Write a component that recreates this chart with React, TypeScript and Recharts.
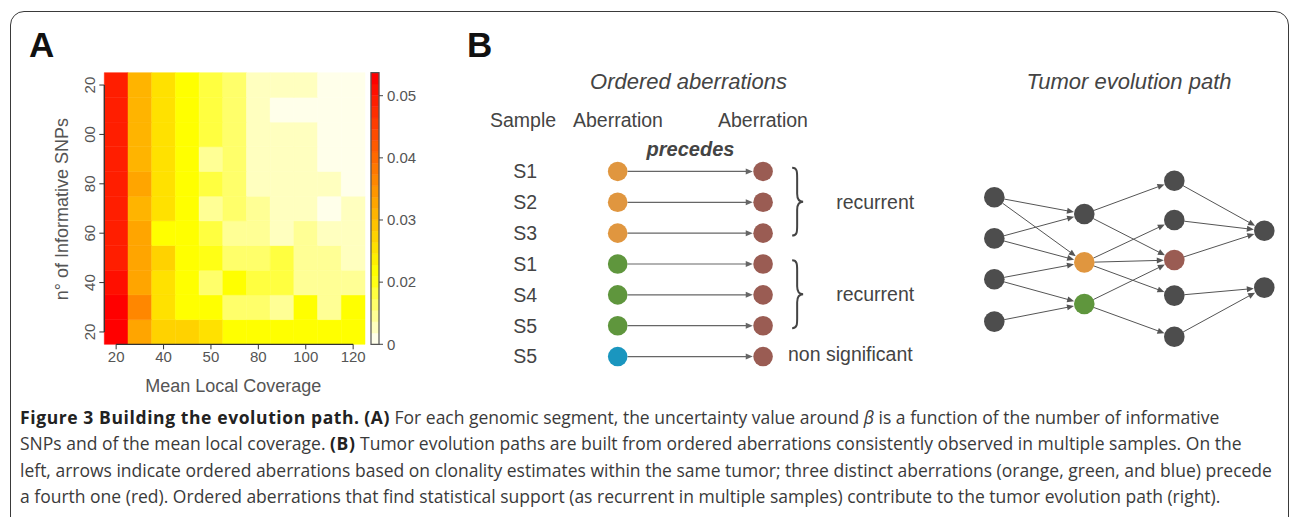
import React from 'react'
import { ReferenceArea, ReferenceLine, Scatter, ScatterChart, XAxis, YAxis } from 'recharts'

const FONT = '"Liberation Sans", Arial, Helvetica, sans-serif'
const INK = '#444'

/* ---------- panel A: uncertainty of beta ---------- */

// one row per number of informative SNPs, bottom row (20) first; 11 coverage bins per row
const SNP_COUNTS = [20, 30, 40, 50, 60, 70, 80, 90, 100, 110, 120]
const UNCERTAINTY = [
  [0.052, 0.032, 0.027, 0.027, 0.0255, 0.0218, 0.0218, 0.0218, 0.0218, 0.021, 0.021],
  [0.053, 0.0355, 0.026, 0.0218, 0.021, 0.0164, 0.0164, 0.0146, 0.021, 0.0146, 0.021],
  [0.051, 0.0328, 0.0255, 0.0218, 0.0164, 0.021, 0.018, 0.018, 0.0146, 0.0146, 0.0146],
  [0.049, 0.0328, 0.027, 0.0218, 0.02, 0.0164, 0.0164, 0.018, 0.0146, 0.0146, 0.0128],
  [0.049, 0.032, 0.0218, 0.021, 0.018, 0.0146, 0.0146, 0.0128, 0.0146, 0.013, 0.0128],
  [0.049, 0.031, 0.0255, 0.021, 0.0146, 0.0164, 0.0146, 0.0128, 0.0128, 0.011, 0.0128],
  [0.049, 0.0328, 0.0255, 0.021, 0.0175, 0.0164, 0.0128, 0.0128, 0.0128, 0.0128, 0.011],
  [0.049, 0.031, 0.0255, 0.021, 0.0146, 0.0164, 0.0128, 0.0128, 0.0128, 0.011, 0.011],
  [0.049, 0.031, 0.0255, 0.021, 0.018, 0.0164, 0.0128, 0.0128, 0.0128, 0.011, 0.011],
  [0.049, 0.031, 0.0255, 0.021, 0.018, 0.0164, 0.0128, 0.011, 0.011, 0.011, 0.011],
  [0.049, 0.031, 0.0255, 0.021, 0.018, 0.0164, 0.0128, 0.0128, 0.0128, 0.011, 0.011],
]
// tick labels as printed (the leading "1" of 100 / 120 is cut off in the figure)
const SNP_TICK_LABELS = ['20', '40', '60', '80', '00', '20']
const COVERAGE_TICK_LABELS = ['20', '40', '50', '80', '100', '120']

const LEGEND_MIN = 0.01
const LEGEND_MAX = 0.0537
const LEGEND_TICKS = [0.01, 0.02, 0.03, 0.04, 0.05]
const LEGEND_TICK_LABELS = ['0', '0.02', '0.03', '0.04', '0.05']
const LEGEND_STEPS = 24

// R's heat.colors, lightest first
function heatColor(band: number, n: number) {
  const j = Math.floor(n / 4)
  const i = n - j
  const hex = (v: number) => Math.round(v).toString(16).padStart(2, '0')
  if (band < j) {
    const s = (2 * band + 1) / (2 * j)
    return '#ffff' + hex(255 * (1 - s))
  }
  const h = (1 - (band - j) / (i - 1)) / 6
  return '#ff' + hex(255 * h * 6) + '00'
}

const bandOf = (v: number) =>
  Math.max(0, Math.min(LEGEND_STEPS - 1, Math.floor(((v - LEGEND_MIN) / (LEGEND_MAX - LEGEND_MIN)) * LEGEND_STEPS)))

const cells = UNCERTAINTY.flatMap((row, r) =>
  row.map((v, c) => ({ x: c + 0.5, y: r + 0.5, v, snps: SNP_COUNTS[r], color: heatColor(bandOf(v), LEGEND_STEPS) })),
)
const colTicks = COVERAGE_TICK_LABELS.map((_, k) => 2 * k + 0.5)
const rowTicks = SNP_TICK_LABELS.map((_, k) => 2 * k + 0.5)
const legendBands = Array.from({ length: LEGEND_STEPS }, (_, b) => ({
  x: 0.5,
  lo: LEGEND_MIN + ((LEGEND_MAX - LEGEND_MIN) * b) / LEGEND_STEPS,
  hi: LEGEND_MIN + ((LEGEND_MAX - LEGEND_MIN) * (b + 1)) / LEGEND_STEPS,
  color: heatColor(b, LEGEND_STEPS),
}))

const tickText = { fill: '#555', fontSize: 15, fontFamily: FONT }

function SnpTick({ x, y, payload }: any) {
  const label = SNP_TICK_LABELS[Math.round((payload.value - 0.5) / 2)]
  return (
    <text x={x} y={y} transform={`rotate(-90 ${x} ${y})`} textAnchor="middle" {...tickText}>
      {label}
    </text>
  )
}

function Heatmap() {
  return (
    <ScatterChart width={400} height={400} margin={{ top: 72.7, right: 35, bottom: 25.7, left: 0 }}>
      <XAxis type="number" dataKey="x" domain={[0, 11]} ticks={colTicks} interval={0} height={30}
             axisLine={false} tickSize={5} tickLine={{ stroke: '#333' }} tick={tickText}
             tickFormatter={(v: number) => COVERAGE_TICK_LABELS[Math.round((v - 0.5) / 2)]} />
      <YAxis type="number" dataKey="y" domain={[0, 11]} ticks={rowTicks} interval={0} width={104.3}
             axisLine={false} tickSize={5} tickMargin={4} tickLine={{ stroke: '#333' }} tick={<SnpTick />} />
      <Scatter data={cells} fill="transparent" isAnimationActive={false} />
      {cells.map((c) => (
        <ReferenceArea key={`${c.x}-${c.y}`} x1={c.x - 0.5} x2={c.x + 0.5} y1={c.y - 0.5} y2={c.y + 0.5}
                       fill={c.color} fillOpacity={1} stroke={c.color} strokeWidth={0.5} />
      ))}
      <ReferenceLine segment={[{ x: 0, y: 0.5 }, { x: 0, y: 10.5 }]} stroke="#333" strokeWidth={1.3} ifOverflow="visible" />
      <ReferenceLine segment={[{ x: 0.5, y: 0 }, { x: 10.5, y: 0 }]} stroke="#333" strokeWidth={1.3} ifOverflow="visible" />
    </ScatterChart>
  )
}

function Legend() {
  return (
    <ScatterChart width={80} height={300} margin={{ top: 12.7, right: 11, bottom: 15.7, left: 11 }}>
      <XAxis type="number" dataKey="x" domain={[0, 1]} hide />
      <YAxis type="number" dataKey="lo" orientation="right" domain={[LEGEND_MIN, LEGEND_MAX]} ticks={LEGEND_TICKS}
             interval={0} width={50} axisLine={false} tickSize={4} tickMargin={4} tickLine={{ stroke: '#444' }}
             tick={tickText} tickFormatter={(v: number) => LEGEND_TICK_LABELS[LEGEND_TICKS.indexOf(v)] ?? ''} />
      <Scatter data={legendBands} fill="transparent" isAnimationActive={false} />
      {legendBands.map((b) => (
        <ReferenceArea key={b.lo} x1={0} x2={1} y1={b.lo} y2={b.hi} fill={b.color} fillOpacity={1}
                       stroke={b.color} strokeWidth={0.5} />
      ))}
      <ReferenceArea x1={0} x2={1} y1={LEGEND_MIN} y2={LEGEND_MAX} fill="none" stroke="#555" strokeWidth={1.2}
                     ifOverflow="visible" />
    </ScatterChart>
  )
}

/* ---------- panel B ---------- */

const KIND_COLOR: Record<string, string> = {
  orange: '#E0963F',
  green: '#5F963D',
  blue: '#1A96BF',
  red: '#9A5C53',
  other: '#4D4D4D',
}

// ordered aberrations: sample, aberration that comes first (the second one is always the red one)
const SAMPLES = ['S1', 'S2', 'S3', 'S1', 'S4', 'S5', 'S5']
const FIRST_ABERRATION = ['orange', 'orange', 'orange', 'green', 'green', 'green', 'blue']
const RECURRENT_GROUPS = [
  { from: 0, to: 2, label: 'recurrent' },
  { from: 3, to: 5, label: 'recurrent' },
]

const firstPoints = FIRST_ABERRATION.map((k, i) => ({ x: 0, y: i, color: KIND_COLOR[k] }))
const secondPoints = SAMPLES.map((_, i) => ({ x: 1, y: i, color: KIND_COLOR.red }))

// tumor evolution path: layer (column) and vertical position of each aberration
const NODES = [
  { id: 'a1', layer: 0, pos: -1.57, kind: 'other' },
  { id: 'a2', layer: 0, pos: -0.54, kind: 'other' },
  { id: 'a3', layer: 0, pos: 0.48, kind: 'other' },
  { id: 'a4', layer: 0, pos: 1.54, kind: 'other' },
  { id: 'b1', layer: 1, pos: -1.15, kind: 'other' },
  { id: 'b2', layer: 1, pos: 0.06, kind: 'orange' },
  { id: 'b3', layer: 1, pos: 1.1, kind: 'green' },
  { id: 'c1', layer: 2, pos: -1.98, kind: 'other' },
  { id: 'c2', layer: 2, pos: -1.0, kind: 'other' },
  { id: 'c3', layer: 2, pos: 0, kind: 'red' },
  { id: 'c4', layer: 2, pos: 0.89, kind: 'other' },
  { id: 'c5', layer: 2, pos: 1.92, kind: 'other' },
  { id: 'd1', layer: 3, pos: -0.73, kind: 'other' },
  { id: 'd2', layer: 3, pos: 0.69, kind: 'other' },
]
const EDGES = [
  ['a1', 'b1'], ['a1', 'b2'], ['a2', 'b1'], ['a2', 'b2'], ['a3', 'b2'], ['a3', 'b3'], ['a4', 'b3'],
  ['b1', 'c1'], ['b1', 'c3'], ['b2', 'c2'], ['b2', 'c3'], ['b2', 'c4'], ['b3', 'c3'], ['b3', 'c5'],
  ['c1', 'd1'], ['c2', 'd1'], ['c3', 'd1'], ['c4', 'd2'], ['c5', 'd2'],
]
const nodePoints = NODES.map((n) => ({ x: n.layer, y: n.pos, color: KIND_COLOR[n.kind] }))
const nodeById = Object.fromEntries(NODES.map((n) => [n.id, n]))

const dot = (r: number) => (props: any) => {
  const { cx, cy, payload } = props
  if (cx == null || cy == null) return <g />
  return <circle cx={cx} cy={cy} r={r} fill={payload.color} />
}

function arrow(gap: number, color: string, width: number) {
  return (p: any) => {
    const { x1, y1, x2, y2 } = p
    const dx = x2 - x1
    const dy = y2 - y1
    const len = Math.hypot(dx, dy) || 1
    const ux = dx / len
    const uy = dy / len
    const tx = x2 - ux * (gap + 0.5)
    const ty = y2 - uy * (gap + 0.5)
    const bx = tx - ux * 7
    const by = ty - uy * 7
    return (
      <g>
        <line x1={x1 + ux * gap} y1={y1 + uy * gap} x2={bx + ux} y2={by + uy} stroke={color} strokeWidth={width} />
        <polygon points={`${tx},${ty} ${bx - uy * 3},${by + ux * 3} ${bx + uy * 3},${by - ux * 3}`} fill={color} />
      </g>
    )
  }
}

function brace(p: any) {
  const { x1, y1, y2 } = p
  const top = Math.min(y1, y2)
  const bot = Math.max(y1, y2)
  const mid = (top + bot) / 2
  const m = x1 + 5
  const tip = x1 + 11
  const d = `M${x1},${top} C${m},${top} ${m},${top + 4} ${m},${top + 10} L${m},${mid - 8} ` +
    `C${m},${mid - 3} ${m + 2},${mid} ${tip},${mid} C${m + 2},${mid} ${m},${mid + 3} ${m},${mid + 8} ` +
    `L${m},${bot - 10} C${m},${bot - 4} ${m},${bot} ${x1},${bot}`
  return <path d={d} fill="none" stroke={INK} strokeWidth={2} />
}

function OrderedAberrations() {
  return (
    <ScatterChart width={463} height={230} margin={{ top: 6, right: 0, bottom: 8, left: 0 }}>
      <XAxis type="number" dataKey="x" domain={[-0.5, 2.1]} hide />
      <YAxis type="number" dataKey="y" domain={[-0.5, 6.5]} reversed ticks={SAMPLES.map((_, i) => i)} interval={0}
             width={85} axisLine={false} tickLine={false} tickSize={0} tickMargin={8}
             tick={{ fill: INK, fontSize: 19.5, fontFamily: FONT }} tickFormatter={(i: number) => SAMPLES[i]} />
      {SAMPLES.map((_, i) => (
        <ReferenceLine key={i} segment={[{ x: 0, y: i }, { x: 1, y: i }]} ifOverflow="visible"
                       shape={arrow(9.8, '#666', 1.2)} />
      ))}
      {RECURRENT_GROUPS.map((g) => (
        <ReferenceLine key={g.from} segment={[{ x: 1.2, y: g.from - 0.12 }, { x: 1.2, y: g.to + 0.08 }]}
                       ifOverflow="visible" shape={brace}
                       label={{ value: g.label, position: 'right', offset: 44, fill: INK, fontSize: 19.5, fontFamily: FONT }} />
      ))}
      <Scatter data={firstPoints} shape={dot(9.8)} isAnimationActive={false} />
      <Scatter data={secondPoints} shape={dot(9.8)} isAnimationActive={false} />
    </ScatterChart>
  )
}

function EvolutionPath() {
  return (
    <ScatterChart width={350} height={220} margin={{ top: 10, right: 3.2, bottom: 10, left: 9.3 }}>
      <XAxis type="number" dataKey="x" domain={[-0.5, 3.25]} hide />
      <YAxis type="number" dataKey="y" domain={[-2.5, 2.5]} reversed hide />
      {EDGES.map(([a, b]) => (
        <ReferenceLine key={a + b} ifOverflow="visible" shape={arrow(10, '#555', 1)}
                       segment={[{ x: nodeById[a].layer, y: nodeById[a].pos }, { x: nodeById[b].layer, y: nodeById[b].pos }]} />
      ))}
      <Scatter data={nodePoints} shape={dot(10.3)} isAnimationActive={false} />
    </ScatterChart>
  )
}

const captionBold = { fontWeight: 700, color: '#222', letterSpacing: '0.6px' }

export default function App() {
  return (
    <div style={{ position: 'absolute', left: 0, top: 0, width: 1290, height: 517, overflow: 'hidden', background: '#fff' }}>
      <div style={{
        position: 'absolute', left: 10, top: 11, width: 1277, height: 600,
        border: '1.5px solid #3a3a3a', borderRadius: 14,
      }} />

      <div style={{ position: 'absolute', left: 0, top: 0 }}><Heatmap /></div>
      <div style={{ position: 'absolute', left: 360, top: 60 }}><Legend /></div>
      <div style={{ position: 'absolute', left: 460, top: 150 }}><OrderedAberrations /></div>
      <div style={{ position: 'absolute', left: 940, top: 150 }}><EvolutionPath /></div>

      <svg width={1290} height={517} style={{ position: 'absolute', left: 0, top: 0, pointerEvents: 'none' }}
           fontFamily={FONT}>
        <text x={29} y={57} fontSize={35} fontWeight={700} fill="#111">A</text>
        <text x={467} y={57} fontSize={35} fontWeight={700} fill="#111">B</text>
        <text x={233.3} y={392} fontSize={18} fill="#555" textAnchor="middle">Mean Local Coverage</text>
        <text x={68.3} y={209.2} fontSize={18} fill="#555" textAnchor="middle" transform="rotate(-90 68.3 209.2)">
          n° of Informative SNPs
        </text>
        <text x={688.5} y={89} fontSize={22} fontStyle="italic" fill={INK} textAnchor="middle">Ordered aberrations</text>
        <text x={1129} y={89} fontSize={22} fontStyle="italic" fill={INK} textAnchor="middle">Tumor evolution path</text>
        <text x={490} y={127} fontSize={19.5} fill={INK}>Sample</text>
        <text x={573} y={127} fontSize={19.5} fill={INK}>Aberration</text>
        <text x={718} y={127} fontSize={19.5} fill={INK}>Aberration</text>
        <text x={690.5} y={156} fontSize={20} fontWeight={700} fontStyle="italic" fill={INK} textAnchor="middle">precedes</text>
        <text x={788} y={361} fontSize={19.5} fill={INK}>non significant</text>
      </svg>

      <div style={{
        position: 'absolute', left: 20, top: 404, fontFamily: '"Open Sans", sans-serif', fontSize: 17.5,
        lineHeight: '26.3px', color: '#3a3a3a', whiteSpace: 'nowrap',
      }}>
        <div><span style={captionBold}>Figure 3 Building the evolution path.</span> <span style={captionBold}>(A)</span> For each genomic segment, the uncertainty value around <i>β</i> is a function of the number of informative</div>
        <div>SNPs and of the mean local coverage. <span style={captionBold}>(B)</span> Tumor evolution paths are built from ordered aberrations consistently observed in multiple samples. On the</div>
        <div>left, arrows indicate ordered aberrations based on clonality estimates within the same tumor; three distinct aberrations (orange, green, and blue) precede</div>
        <div>a fourth one (red). Ordered aberrations that find statistical support (as recurrent in multiple samples) contribute to the tumor evolution path (right).</div>
      </div>
    </div>
  )
}
